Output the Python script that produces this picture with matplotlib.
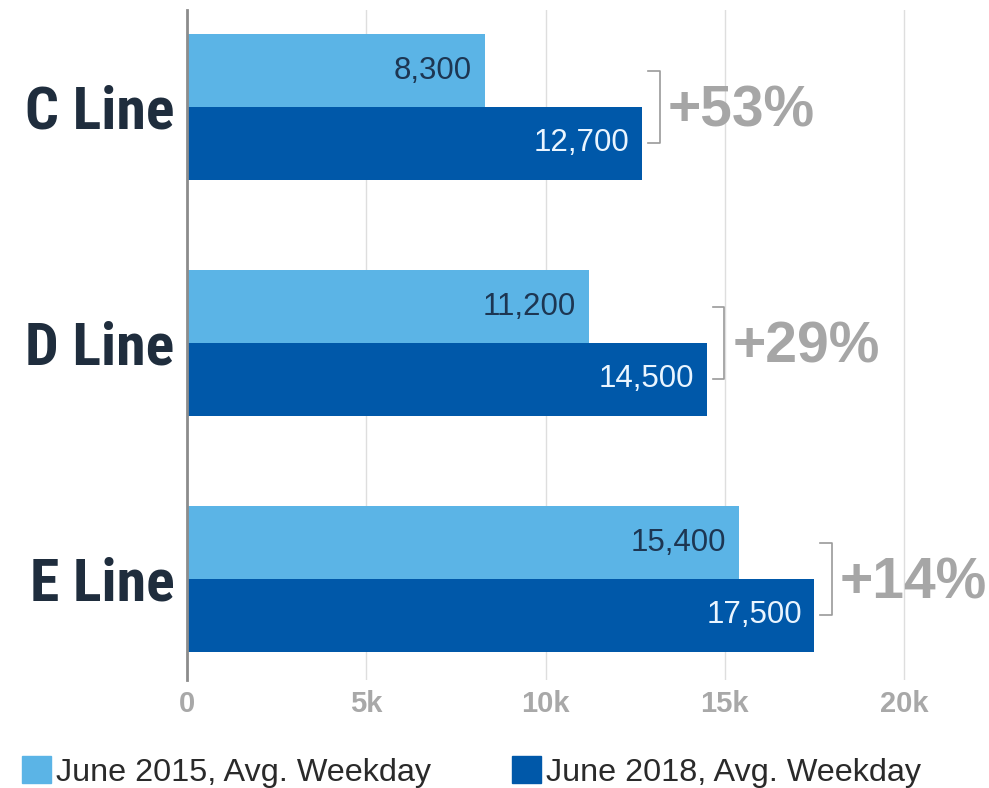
import numpy as np
import matplotlib.pyplot as plt
from matplotlib import font_manager
from matplotlib.patches import Patch
from matplotlib.ticker import FuncFormatter

# datos del grafico
lineas = ['C Line', 'D Line', 'E Line']
junio_2015 = [8300, 11200, 15400]
junio_2018 = [12700, 14500, 17500]
etiquetas_leyenda = ['June 2015, Avg. Weekday', 'June 2018, Avg. Weekday']
ticks_x = [0, 5000, 10000, 15000, 20000]

# colores
azul_claro = '#5bb4e6'
azul_oscuro = '#0058a9'
gris_pct = '#a6a6a6'

plt.rcParams['font.family'] = ['Liberation Sans', 'DejaVu Sans']

# fuente estrecha para las categorias si existe
instaladas = {f.name for f in font_manager.fontManager.ttflist}
if 'Roboto Condensed' in instaladas:
    fam_cat, tam_cat = 'Roboto Condensed', 43
elif 'Liberation Sans Narrow' in instaladas:
    fam_cat, tam_cat = 'Liberation Sans Narrow', 43
else:
    fam_cat, tam_cat = 'Liberation Sans', 36

fig = plt.figure(figsize=(9.89, 7.88), dpi=100)
ax = fig.add_axes([187 / 989, 108 / 788, 802 / 989, 670 / 788])

pos = np.arange(len(lineas))
alto = 0.309

ax.barh(pos - alto / 2, junio_2015, height=alto, color=azul_claro, zorder=2)
ax.barh(pos + alto / 2, junio_2018, height=alto, color=azul_oscuro, zorder=2)

# etiquetas de valores dentro de las barras
for i in range(len(lineas)):
    ax.text(junio_2015[i] - 350, pos[i] - alto / 2, f'{junio_2015[i]:,}',
            ha='right', va='center', fontsize=22.5, color='#1d3652', zorder=3)
    ax.text(junio_2018[i] - 350, pos[i] + alto / 2, f'{junio_2018[i]:,}',
            ha='right', va='center', fontsize=22.5, color='#eaf5ff', zorder=3)

    # corchete y porcentaje de aumento
    bx = junio_2018[i] + 480
    ax.plot([bx - 320, bx, bx, bx - 320],
            [pos[i] - alto / 2, pos[i] - alto / 2, pos[i] + alto / 2, pos[i] + alto / 2],
            color='#9a9a9a', lw=1.2, zorder=3)
    pct = round((junio_2018[i] - junio_2015[i]) / junio_2015[i] * 100)
    ax.text(bx + 230, pos[i] + 0.02, f'+{pct}%', ha='left', va='center',
            fontsize=41, fontweight='bold', color=gris_pct, zorder=3)

ax.set_xlim(0, 802 / 35.85 * 1000)
ax.set_ylim(2.428, -0.411)

ax.set_xticks(ticks_x)
ax.xaxis.set_major_formatter(FuncFormatter(lambda v, p: '0' if v == 0 else f'{int(v / 1000)}k'))
ax.set_yticks(pos)
ax.set_yticklabels(lineas, family=[fam_cat, 'DejaVu Sans'],
                   fontsize=tam_cat, fontweight='bold', color='#1f2d3d')
ax.tick_params(axis='y', length=0, pad=9)
ax.tick_params(axis='x', length=0, pad=7, labelsize=21, labelcolor='#a8a8a8')
for t in ax.get_xticklabels():
    t.set_fontweight('bold')

ax.grid(axis='x', color='#dedede', lw=1, zorder=0)
ax.grid(axis='y', visible=False)
for s in ['top', 'right', 'bottom']:
    ax.spines[s].set_visible(False)
ax.spines['left'].set_color('#8c8c8c')
ax.spines['left'].set_linewidth(2)
ax.spines['left'].set_zorder(4)

handles = [Patch(color=azul_claro), Patch(color=azul_oscuro)]
fig.legend(handles, etiquetas_leyenda, loc='lower left', bbox_to_anchor=(22 / 989, 0.0),
           ncol=2, frameon=False, fontsize=23.3, handlelength=0.9, handleheight=0.9,
           handletextpad=0.15, columnspacing=2.5, borderpad=0, borderaxespad=0,
           labelcolor='#2a2a2a')

fig.savefig('out.png', dpi=100)
